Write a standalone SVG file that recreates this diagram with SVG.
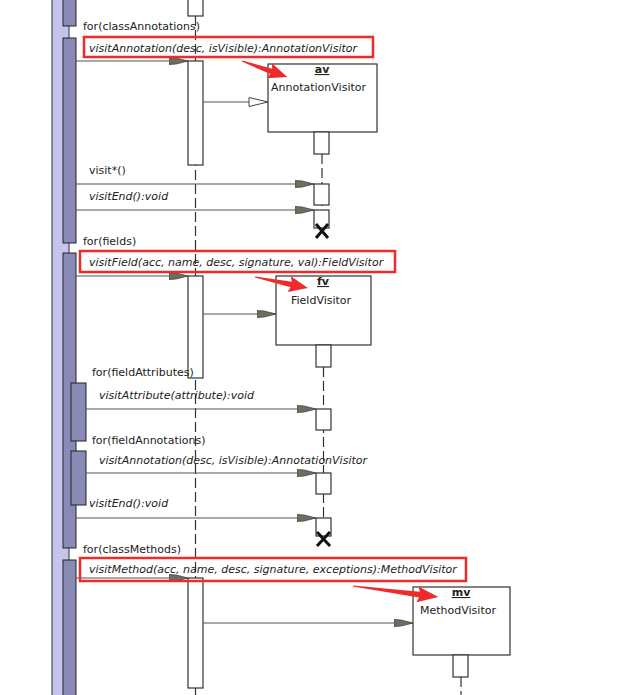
<svg xmlns="http://www.w3.org/2000/svg" width="629" height="695" viewBox="0 0 629 695">
<defs>
<style>
.t{font-family:"DejaVu Sans","Liberation Sans",sans-serif;font-size:11px;fill:#222}
.i{font-style:italic}
.b{font-weight:bold;text-decoration:underline}
.act{fill:#fff;stroke:#333;stroke-width:1.2}
.obj{fill:#fff;stroke:#333;stroke-width:1.2}
.life{stroke:#333;stroke-width:1.2;stroke-dasharray:10 4;fill:none}
.msg{stroke:#555;stroke-width:1.2;fill:none}
.red{fill:none;stroke:#ee2a2a;stroke-width:2.5}
.rarrow{fill:#ee2a2a}
.x{stroke:#111;stroke-width:3;fill:none}
.outer{fill:#c4c4ee;stroke:#333;stroke-width:1}
.inner{fill:#8a8ab6;stroke:#222;stroke-width:1}
</style>
<marker id="fa" viewBox="0 -5 20 10" refX="19" refY="0" markerWidth="20" markerHeight="10" markerUnits="userSpaceOnUse" orient="auto">
<path d="M0,-3.5 L7,-3 L19,0 L7,3 L0,3.5 Z" fill="#6e6e5e" stroke="#444" stroke-width="0.8"/>
</marker>
<marker id="oa" viewBox="0 -6 22 12" refX="20" refY="0" markerWidth="22" markerHeight="12" markerUnits="userSpaceOnUse" orient="auto">
<path d="M1,-4.5 L20,0 L1,4.5 Z" fill="#fff" stroke="#444" stroke-width="1"/>
</marker>
</defs>
<rect width="629" height="695" fill="#fff"/>

<g id="caller">
<rect class="outer" x="52" y="-2" width="17" height="700"/>
<rect class="inner" x="63" y="-2" width="13" height="28"/>
<rect class="inner" x="63" y="38" width="13" height="205"/>
<rect class="inner" x="63" y="253" width="13" height="295"/>
<rect class="inner" x="71" y="383" width="15" height="58"/>
<rect class="inner" x="71" y="451" width="15" height="54"/>
<rect class="inner" x="63" y="560" width="13" height="140"/>
</g>

<g id="cw">
<line class="life" x1="195.5" y1="16" x2="195.5" y2="695"/>
<rect class="act" x="188" y="-2" width="15" height="18"/>
<rect class="act" x="188" y="61" width="15" height="104"/>
<rect class="act" x="188" y="276" width="15" height="102"/>
<rect class="act" x="188" y="578" width="15" height="110"/>
</g>

<g id="av">
<line class="life" x1="322" y1="154" x2="322" y2="209"/>
<rect class="obj" x="268" y="64" width="109" height="68"/>
<text class="t b" x="322" y="73" text-anchor="middle">av</text>
<text class="t" x="271" y="91">AnnotationVisitor</text>
<rect class="act" x="314" y="132" width="15" height="22"/>
<rect class="act" x="314" y="184" width="15" height="21"/>
<rect class="act" x="314" y="210" width="15" height="18"/>
<path class="x" d="M316,224 L328,238 M328,224 L316,238"/>
</g>

<g id="fv">
<line class="life" x1="323.5" y1="367" x2="323.5" y2="518"/>
<rect class="obj" x="276" y="276" width="95" height="69"/>
<text class="t b" x="323" y="285" text-anchor="middle">fv</text>
<text class="t" x="291" y="304">FieldVisitor</text>
<rect class="act" x="316" y="345" width="15" height="22"/>
<rect class="act" x="316" y="409" width="15" height="21"/>
<rect class="act" x="316" y="473" width="15" height="21"/>
<rect class="act" x="316" y="518" width="15" height="18"/>
<path class="x" d="M317,532 L330,546 M330,532 L317,546"/>
</g>

<g id="mv">
<line class="life" x1="461" y1="677" x2="461" y2="695"/>
<rect class="obj" x="413" y="587" width="97" height="68"/>
<text class="t b" x="461" y="596" text-anchor="middle">mv</text>
<text class="t" x="420" y="614">MethodVisitor</text>
<rect class="act" x="453" y="655" width="15" height="22"/>
</g>

<g id="connectors">
<line class="msg" x1="76" y1="61" x2="188" y2="61" marker-end="url(#fa)"/>
<line class="msg" x1="203" y1="102" x2="268" y2="102" marker-end="url(#oa)"/>
<line class="msg" x1="76" y1="184" x2="314" y2="184" marker-end="url(#fa)"/>
<line class="msg" x1="76" y1="210" x2="314" y2="210" marker-end="url(#fa)"/>
<line class="msg" x1="76" y1="276" x2="188" y2="276" marker-end="url(#fa)"/>
<line class="msg" x1="203" y1="314" x2="276" y2="314" marker-end="url(#fa)"/>
<line class="msg" x1="86" y1="409" x2="316" y2="409" marker-end="url(#fa)"/>
<line class="msg" x1="86" y1="473" x2="316" y2="473" marker-end="url(#fa)"/>
<line class="msg" x1="76" y1="518" x2="316" y2="518" marker-end="url(#fa)"/>
<line class="msg" x1="76" y1="578" x2="188" y2="578" marker-end="url(#fa)"/>
<line class="msg" x1="203" y1="623" x2="413" y2="623" marker-end="url(#fa)"/>
</g>

<g id="labels">
<text class="t" x="83" y="30">for(classAnnotations)</text>
<text class="t i" x="89" y="52">visitAnnotation(desc, isVisible):AnnotationVisitor</text>
<text class="t" x="89" y="174">visit*()</text>
<text class="t i" x="89" y="200">visitEnd():void</text>
<text class="t" x="83" y="245">for(fields)</text>
<text class="t i" x="89" y="266">visitField(acc, name, desc, signature, val):FieldVisitor</text>
<text class="t" x="92" y="376">for(fieldAttributes)</text>
<text class="t i" x="99" y="399">visitAttribute(attribute):void</text>
<text class="t" x="92" y="444">for(fieldAnnotations)</text>
<text class="t i" x="99" y="464">visitAnnotation(desc, isVisible):AnnotationVisitor</text>
<text class="t i" x="89" y="507">visitEnd():void</text>
<text class="t" x="83" y="553">for(classMethods)</text>
<text class="t i" x="89" y="573">visitMethod(acc, name, desc, signature, exceptions):MethodVisitor</text>
</g>

<g id="highlights">
<rect class="red" x="84" y="37" width="289" height="20"/>
<rect class="red" x="80" y="251" width="315" height="21"/>
<rect class="red" x="80" y="558" width="386" height="23"/>
<polygon class="rarrow" transform="translate(242,61) rotate(19.6)" points="0,-0.6 31,-2.8 29,-8 48,0 29,8 31,2.8 0,0.6"/>
<polygon class="rarrow" transform="translate(255,277) rotate(11.7)" points="0,-0.6 37,-2.8 35,-8 54,0 35,8 37,2.8 0,0.6"/>
<polygon class="rarrow" transform="translate(353,586) rotate(7.4)" points="0,-0.6 67,-2.8 65,-8 86,0 65,8 67,2.8 0,0.6"/>
</g>
</svg>
